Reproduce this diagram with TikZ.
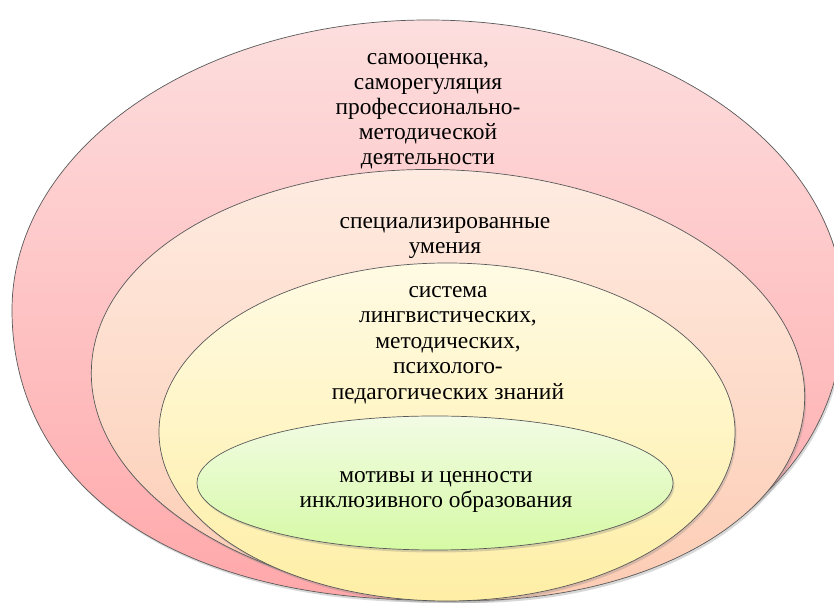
\documentclass[tikz,border=0pt]{standalone}
\usepackage{fontspec}
\setmainfont{Liberation Serif}
\usepackage{tikz}
\usetikzlibrary{shadows}
\usepackage{xcolor}
\definecolor{pinktop}{RGB}{253,222,222}
\definecolor{pinkbot}{RGB}{255,168,170}
\definecolor{peachtop}{RGB}{254,236,226}
\definecolor{peachbot}{RGB}{253,204,180}
\definecolor{yeltop}{RGB}{255,251,228}
\definecolor{yelbot}{RGB}{254,238,165}
\definecolor{greentop}{RGB}{242,251,228}
\definecolor{greenbot}{RGB}{214,250,165}

\begin{document}
\begin{tikzpicture}[x=1bp,y=1bp,
  ring/.style={draw=black!65, line width=0.7pt,
    drop shadow={shadow xshift=1.5pt, shadow yshift=-2.5pt, opacity=0.3}},
  txt/.style={align=center, inner sep=0pt, font=\fontsize{23.5}{25}\selectfont}]
  \useasboundingbox (0,0) rectangle (834,603);
  \clip (0,0) rectangle (834,603);
  \fill[white] (0,0) rectangle (834,603);
  \draw[ring, top color=pinktop, bottom color=pinkbot]
    (12,293) arc[start angle=180, end angle=0, x radius=416, y radius=290]
    .. controls (844,117) and (682,3) .. (428,3)
    .. controls (174,3) and (12,117) .. (12,293) -- cycle;
  \draw[ring, top color=peachtop, bottom color=peachbot, rotate around={-3:(448,218)}]
    (448,218) ellipse [x radius=357, y radius=215];
  \draw[ring, top color=yeltop, bottom color=yelbot]
    (447,171) ellipse [x radius=288, y radius=169];
  \draw[ring, top color=greentop, bottom color=greenbot]
    (435,120) ellipse [x radius=238, y radius=67];
  \node[txt] (selfcheck) at (428,492) {самооценка,\\ саморегуляция\\ профессионально-\\ методической\\ деятельности};
  \node[txt] (skills) at (445,365) {специализированные\\ умения};
  \node[txt, font=\fontsize{23.5}{25.5}\selectfont] (knowledge) at (448,258) {система\\ лингвистических,\\ методических,\\ психолого-\\ педагогических знаний};
  \node[txt] (motives) at (436,111) {мотивы и ценности\\ инклюзивного образования};
\end{tikzpicture}
\end{document}
